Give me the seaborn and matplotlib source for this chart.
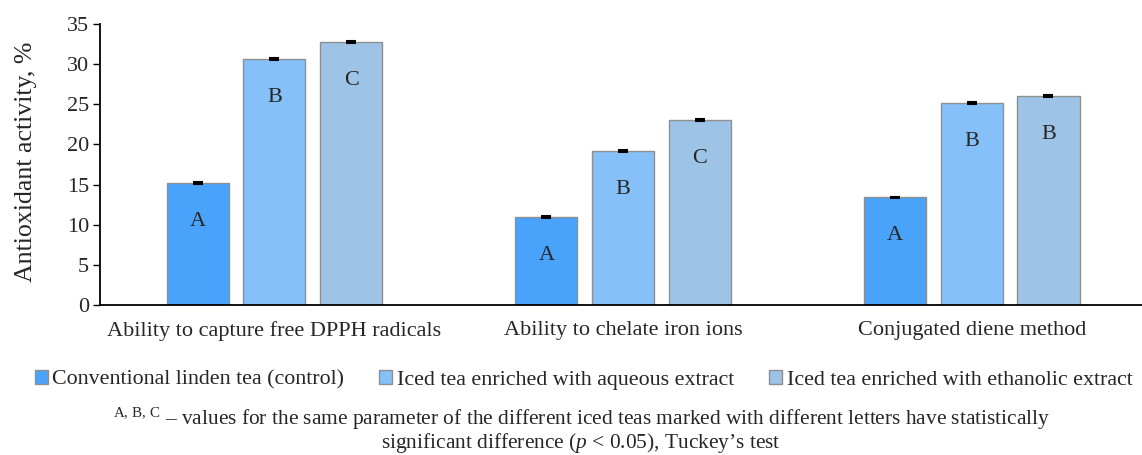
import numpy as np
import pandas as pd
import seaborn as sns
import matplotlib.pyplot as plt
from matplotlib.patches import Patch

# data
methods = ['Ability to capture free DPPH radicals', 'Ability to chelate iron ions', 'Conjugated diene method']
samples = ['Conventional linden tea (control)', 'Iced tea enriched with aqueous extract',
           'Iced tea enriched with ethanolic extract']
control = [15.2, 10.95, 13.4]
aqueous = [30.6, 19.2, 25.15]
ethanolic = [32.75, 23.05, 26.05]
errors = [[0.08, 0.08, 0.08], [0.12, 0.12, 0.12], [0.1, 0.1, 0.1]]
letters = [['A', 'A', 'A'], ['B', 'B', 'B'], ['C', 'C', 'B']]
colors = ['#4aa3fb', '#86c0f8', '#9dc3e6']

df = pd.DataFrame({
    'method': methods * 3,
    'sample': [s for s in samples for _ in methods],
    'value': control + aqueous + ethanolic,
})

sns.set_style('white')
plt.rcParams['font.family'] = ['Liberation Serif', 'DejaVu Serif']
plt.rcParams['mathtext.fontset'] = 'custom'
plt.rcParams['mathtext.rm'] = 'Liberation Serif'
plt.rcParams['mathtext.it'] = 'Liberation Serif:italic'

fs = 16

fig = plt.figure(figsize=(11.42, 4.55), dpi=100)
ax = fig.add_axes([0.0876, 0.3297, 0.916, 0.6176])

sns.barplot(data=df, x='method', y='value', hue='sample', order=methods, hue_order=samples,
            palette=colors, saturation=1, width=0.66, gap=0.19, errorbar=None,
            edgecolor='#8f8f8f', linewidth=1, ax=ax)

# error bars and significance letters on each bar
bar_groups = list(ax.containers)
for i, cont in enumerate(bar_groups):
    for j, bar in enumerate(cont.patches):
        xc = bar.get_x() + bar.get_width() / 2
        h = bar.get_height()
        ax.errorbar(xc, h, yerr=errors[i][j], fmt='none', ecolor='black',
                    elinewidth=1, capsize=3.8, capthick=1.5, zorder=5)
        ax.text(xc, h - 4.8, letters[i][j], ha='center', va='center', fontsize=fs)

if ax.get_legend() is not None:
    ax.get_legend().remove()
ax.set_ylim(0, 35)
ax.set_xlim(-0.5, 2.5)
ax.set_yticks(range(0, 36, 5))
ax.set_xlabel('')
ax.set_ylabel('Antioxidant activity, %', fontsize=18.6)
ax.yaxis.set_label_coords(-0.060, 0.508)
ax.tick_params(axis='y', left=True, length=5, width=1, color='black', labelsize=fs, pad=3)
ax.tick_params(axis='x', bottom=False, labelsize=fs, pad=8)
for s in ['top', 'right']:
    ax.spines[s].set_visible(False)
for s in ['left', 'bottom']:
    ax.spines[s].set_color('black')
    ax.spines[s].set_linewidth(1.3)

handles = [Patch(facecolor=c, edgecolor='#8f8f8f', linewidth=1) for c in colors]
fig.legend(handles, samples, loc='center', bbox_to_anchor=(0.511, 0.165), ncol=3, frameon=False,
           fontsize=15.8, handlelength=0.6, handleheight=0.6, handletextpad=0.2, columnspacing=1.6)

fig.text(0.509, 0.079, r'$^{\rm A,\,B,\,C}$ – values for the same parameter of the different iced teas '
         r'marked with different letters have statistically', ha='center', va='center', fontsize=15.4)
fig.text(0.509, 0.026, r"significant difference ($p$ < 0.05), Tuckey’s test",
         ha='center', va='center', fontsize=15.4)

fig.savefig('out.png', dpi=100)
